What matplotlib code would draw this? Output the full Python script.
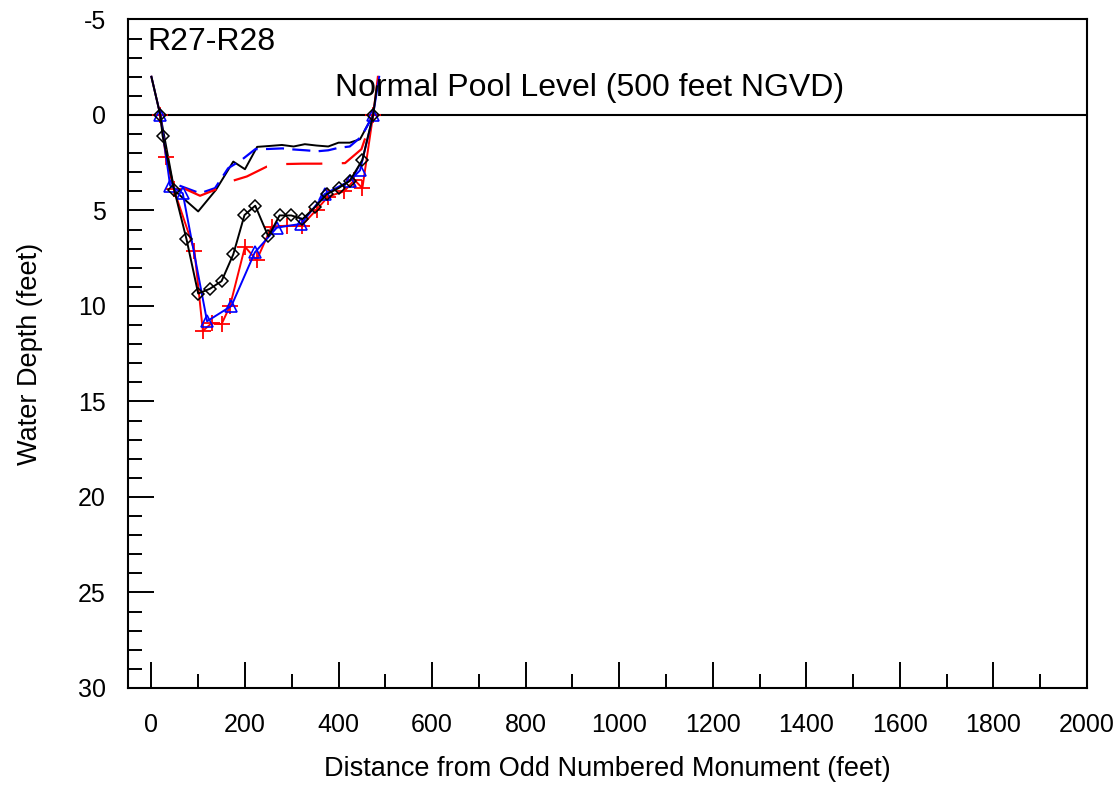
import numpy as np
import matplotlib.pyplot as plt
from matplotlib.ticker import MultipleLocator

plt.rcParams['font.family'] = ['Liberation Sans', 'DejaVu Sans']
plt.rcParams['lines.scale_dashes'] = False
plt.rcParams['axes.unicode_minus'] = False

# survey profiles, distance (ft) vs depth below normal pool (ft)
survey_a_x = [0, 19, 24, 49, 75, 100, 125, 150, 175, 199, 222, 250, 274, 299, 323, 350, 375, 400, 424, 451, 474, 482]
survey_a_y = [-2.0, 0.0, 1.1, 3.95, 6.5, 9.35, 9.1, 8.7, 7.3, 5.24, 4.75, 6.36, 5.26, 5.26, 5.45, 4.82, 4.15, 3.83, 3.45, 2.35, 0.0, -1.5]

survey_b_x = [0, 19, 31, 48, 92, 110, 129, 150, 168, 200, 225, 257, 289, 321, 353, 378, 412, 434, 451, 474, 484]
survey_b_y = [-2.0, 0.0, 2.2, 3.9, 7.1, 11.3, 10.9, 10.95, 10.0, 6.9, 7.6, 5.84, 5.8, 5.8, 4.96, 4.27, 4.0, 3.4, 3.83, 0.0, -2.0]

survey_c_x = [0, 19, 40, 67, 119, 171, 221, 268, 320, 371, 424, 446, 474, 487]
survey_c_y = [-2.0, 0.0, 3.7, 4.1, 10.8, 10.0, 7.2, 5.9, 5.7, 4.13, 3.45, 2.9, 0.0, -2.0]

design_x = [19, 49, 100, 138, 175, 200, 226, 254, 279, 304, 328, 353, 378, 400, 424, 446, 474]
design_y = [0.0, 3.95, 5.05, 3.92, 2.44, 2.84, 1.67, 1.62, 1.57, 1.65, 1.53, 1.6, 1.65, 1.45, 1.45, 1.27, 0.0]

blue_dash_x = [60, 104, 136, 164, 193, 222, 250, 280, 300, 330, 355, 378, 400, 424, 449, 474]
blue_dash_y = [3.7, 4.1, 3.83, 2.79, 2.35, 1.79, 1.78, 1.75, 1.8, 1.85, 1.9, 1.85, 1.72, 1.65, 1.13, 0.0]

red_dash_x = [68, 104, 136, 176, 204, 247, 285, 323, 360, 414, 449, 474]
red_dash_y = [3.83, 4.23, 3.92, 3.43, 3.22, 2.7, 2.57, 2.55, 2.55, 2.52, 1.79, 0.0]

fig = plt.figure(figsize=(11.2, 7.85), dpi=100)
ax = fig.add_axes([0.1143, 0.1236, 0.8562, 0.8516])

ax.axhline(0, color='black', lw=1.5)

ax.plot(design_x, design_y, color='black', lw=1.4)
ax.plot(blue_dash_x, blue_dash_y, color='blue', lw=1.6, dashes=(13, 6))
ax.plot(red_dash_x, red_dash_y, color='red', lw=1.6, dashes=(26, 14))

ax.plot(survey_b_x, survey_b_y, color='red', lw=1.4, marker='+', ms=11, mew=1.3,
        markevery=list(range(1, len(survey_b_x) - 1)))
ax.plot(survey_c_x, survey_c_y, color='blue', lw=1.4, marker='^', ms=8, mfc='none', mew=1.2,
        markevery=list(range(1, len(survey_c_x) - 1)))
ax.plot(survey_a_x, survey_a_y, color='black', lw=1.4, marker='D', ms=6.5, mfc='none', mew=1.1,
        markevery=list(range(1, len(survey_a_x) - 1)))

ax.set_xlim(-50, 2000)
ax.set_ylim(30, -5)
ax.xaxis.set_major_locator(MultipleLocator(200))
ax.xaxis.set_minor_locator(MultipleLocator(100))
ax.yaxis.set_major_locator(MultipleLocator(5))
ax.yaxis.set_minor_locator(MultipleLocator(1))
ax.tick_params(which='both', direction='in', top=False, right=False, labelsize=18, width=1.4)
ax.tick_params(which='major', length=19)
ax.tick_params(which='minor', length=10)
ax.tick_params(axis='x', pad=18)
ax.tick_params(axis='y', pad=16)
for s in ax.spines.values():
    s.set_linewidth(1.5)

ax.text(-9, -3.8, 'R27-R28', fontsize=23, va='center', ha='left')
ax.text(392, -1.4, 'Normal Pool Level (500 feet NGVD)', fontsize=23, va='center', ha='left')

ax.set_xlabel('Distance from Odd Numbered Monument (feet)', fontsize=19.5, labelpad=14)
ax.set_ylabel('Water Depth (feet)', fontsize=19.5, labelpad=25)

plt.savefig('out.png', dpi=100)
plt.close()
